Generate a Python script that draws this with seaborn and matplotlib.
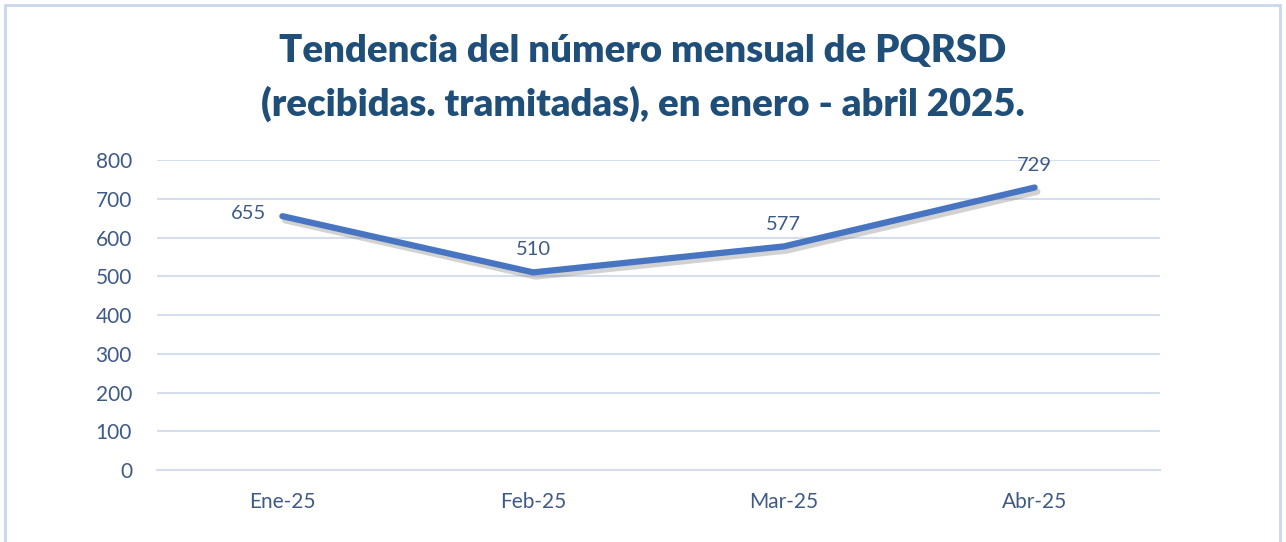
import pandas as pd
import matplotlib.pyplot as plt
import matplotlib.patheffects as pe
import seaborn as sns

# datos
meses = ['Ene-25', 'Feb-25', 'Mar-25', 'Abr-25']
pqrsd = [655, 510, 577, 729]
y_ticks = [0, 100, 200, 300, 400, 500, 600, 700, 800]

df = pd.DataFrame({'mes': meses, 'total': pqrsd})

sns.set_style('white')
plt.rcParams['font.family'] = ['Lato', 'DejaVu Sans']

azul_linea = '#4775C2'
azul_texto = '#3E5A86'
azul_titulo = '#1F4E79'
gris_grid = '#D5DEEE'

fig = plt.figure(figsize=(12.86, 5.42), dpi=100)
ax = fig.add_axes([0.1221, 0.1328, 0.902 - 0.1221, 0.7048 - 0.1328])

sns.lineplot(data=df, x='mes', y='total', ax=ax, color=azul_linea, linewidth=4.5,
             sort=False, solid_capstyle='round', solid_joinstyle='round',
             path_effects=[pe.SimpleLineShadow(offset=(2, -3), alpha=0.35, shadow_color='#7f7f7f'),
                           pe.Normal()])

# etiquetas de datos
for i, v in enumerate(pqrsd):
    if i == 0:
        ax.annotate(f'{v}', (i, v), xytext=(-12, 2), textcoords='offset points',
                    ha='right', va='center', fontsize=14.5, color=azul_texto)
    else:
        ax.annotate(f'{v}', (i, v), xytext=(0, 10), textcoords='offset points',
                    ha='center', va='bottom', fontsize=14.5, color=azul_texto)

ax.set_xlim(-0.5, len(meses) - 0.5)
ax.set_ylim(0, 800)
ax.set_yticks(y_ticks)
ax.set_yticklabels([str(t) for t in y_ticks])
ax.grid(axis='y', color=gris_grid, linewidth=1.5)
ax.set_axisbelow(True)
ax.set_xlabel('')
ax.set_ylabel('')

for s in ['top', 'right', 'left']:
    ax.spines[s].set_visible(False)
ax.spines['bottom'].set_color(gris_grid)
ax.spines['bottom'].set_linewidth(1.5)

ax.set_xticks([i - 0.5 for i in range(len(meses) + 1)], minor=True)
ax.tick_params(axis='x', which='minor', length=6, width=1.5, color=gris_grid)
ax.tick_params(axis='x', which='major', length=0, pad=16, labelsize=15, labelcolor=azul_texto)
ax.tick_params(axis='y', length=0, pad=18, labelsize=15, labelcolor=azul_texto)

fig.text(0.5, 0.905, 'Tendencia del número mensual de PQRSD', ha='center', va='center',
         fontsize=27.5, fontweight='heavy', color=azul_titulo)
fig.text(0.5, 0.808, '(recibidas. tramitadas), en enero - abril 2025.', ha='center', va='center',
         fontsize=27.5, fontweight='heavy', color=azul_titulo)

# marco
marco = plt.Rectangle((5 / 1286, -0.01), 1275 / 1286, 1 - 5 / 542 + 0.01, transform=fig.transFigure,
                      fill=False, edgecolor='#C9D6EC', linewidth=2)
fig.add_artist(marco)

fig.savefig('out.png', dpi=100)
